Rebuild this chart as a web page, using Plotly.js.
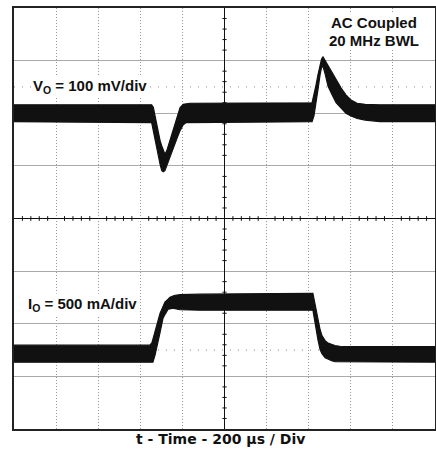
<!DOCTYPE html>
<html>
<head>
<meta charset="utf-8">
<script src="https://cdn.plot.ly/plotly-3.0.1.min.js"></script>
<style>html,body{margin:0;padding:0;background:#fff;}</style>
</head>
<body>
<div id="chart" style="width:436px;height:455px;"></div>
<script>
// Time axis: microseconds across the 10-division screen (200 us/div)
const T_V = [0, 654, 662, 670, 678, 686, 694, 702, 709, 717, 726, 734, 749, 760, 773, 789, 804, 817, 836,
             1416, 1425, 1435, 1444, 1454, 1461, 1468, 1478, 1492, 1511, 1530, 1554, 1577, 1601, 1630, 1668, 1739, 2000];
// Output voltage (AC coupled) envelope, mV
const V_HI = [16, 16, 11, -6, -21, -37, -52, -62, -71, -78, -71, -60, -40, -26, -9, 11, 17, 18, 19,
              20, 35, 54, 73, 94, 103, 107, 100, 89, 77, 63, 48, 35, 25, 19, 17, 16, 16];
const V_LO = [-16, -18, -35, -52, -67, -81, -97, -109, -111, -109, -101, -92, -76, -63, -49, -33, -22, -18, -17,
              -16, -5, 19, 45, 73, 87, 89, 75, 51, 35, 20, 10, 0, -5, -10, -13, -16, -16];

const T_I = [0, 646, 656, 660, 670, 679, 694, 708, 717, 732, 741, 755, 765, 789, 884,
             1420, 1430, 1438, 1444, 1454, 1463, 1478, 1492, 1509, 1525, 1549, 1573, 1644, 2000];
// Output current envelope, mA
const I_HI = [81, 81, 109, 138, 195, 271, 385, 448, 490, 518, 537, 549, 556, 561, 566,
              575, 475, 385, 321, 230, 172, 125, 101, 86, 77, 71, 68, 67, 67];
const I_LO = [-81, -81, -81, -81, -14, 62, 204, 338, 372, 423, 427, 433, 428, 418, 414,
              414, 296, 195, 132, 40, 0, -38, -55, -67, -76, -80, -81, -81, -81];

const V_SCALE = 100;   // mV / div
const V_OFFSET = 2.0;  // div
const I_SCALE = 500;   // mA / div
const I_OFFSET = -2.57; // div

function band(t, hi, lo, scale, off) {
  const x = t.concat(t.slice().reverse());
  const y = hi.map(v => off + v / scale).concat(lo.slice().reverse().map(v => off + v / scale));
  return {
    type: 'scatter', mode: 'lines', x: x, y: y, fill: 'toself',
    fillcolor: '#111', line: {color: '#111', width: 1.2}, hoverinfo: 'skip', showlegend: false
  };
}

const data = [
  band(T_V, V_HI, V_LO, V_SCALE, V_OFFSET),
  band(T_I, I_HI, I_LO, I_SCALE, I_OFFSET)
];

const shapes = [];
// center cross
shapes.push({type: 'line', xref: 'x', yref: 'y', x0: 1000, x1: 1000, y0: -4, y1: 4,
             line: {color: '#111', width: 1}, layer: 'between'});
shapes.push({type: 'line', xref: 'x', yref: 'y', x0: 0, x1: 2000, y0: 0, y1: 0,
             line: {color: '#111', width: 1}, layer: 'between'});
// minor ticks on center cross
for (let k = 1; k < 50; k++) {
  if (k % 5 === 0) continue;
  const xv = k * 40;
  shapes.push({type: 'line', xref: 'x', yref: 'y', x0: xv, x1: xv, y0: -0.045, y1: 0.045,
               line: {color: '#111', width: 1}, layer: 'between'});
}
for (let k = -19; k < 20; k++) {
  if (k % 5 === 0) continue;
  const yv = k * 0.2;
  shapes.push({type: 'line', xref: 'x', yref: 'y', x0: 990, x1: 1010, y0: yv, y1: yv,
               line: {color: '#111', width: 1}, layer: 'between'});
}
// dotted reference lines
[2.5, -2.5].forEach(yv => {
  shapes.push({type: 'line', xref: 'x', yref: 'y', x0: 0, x1: 2000, y0: yv, y1: yv,
               line: {color: '#888', width: 1, dash: '1px,7px'}, layer: 'between'});
});

const font = {family: 'Liberation Sans, Arial, sans-serif', color: '#111', size: 15, weight: 'bold'};

const layout = {
  width: 436, height: 455,
  margin: {l: 14, r: 1, t: 8, b: 26, pad: 0},
  paper_bgcolor: '#fff', plot_bgcolor: '#fff',
  showlegend: false,
  xaxis: {
    range: [0, 2000], dtick: 200, tick0: 0, showticklabels: false, ticks: '',
    showgrid: true, gridcolor: '#999', gridwidth: 1, griddash: '1px,2px',
    zeroline: false, showline: true, mirror: true, linecolor: '#222', linewidth: 2, fixedrange: true
  },
  yaxis: {
    range: [-4, 4], dtick: 1, tick0: 0, showticklabels: false, ticks: '',
    showgrid: true, gridcolor: '#aaa', gridwidth: 1,
    zeroline: false, showline: true, mirror: true, linecolor: '#222', linewidth: 2, fixedrange: true
  },
  shapes: shapes,
  annotations: [
    {xref: 'paper', yref: 'paper', x: 0.854, y: (429 - 22) / 421, xanchor: 'center', yanchor: 'middle',
     text: '<b>AC Coupled</b>', showarrow: false, font: font, bgcolor: '#fff', borderpad: 0},
    {xref: 'paper', yref: 'paper', x: 0.854, y: (429 - 40) / 421, xanchor: 'center', yanchor: 'middle',
     text: '<b>20 MHz BWL</b>', showarrow: false, font: font, bgcolor: '#fff', borderpad: 0},
    {xref: 'paper', yref: 'paper', x: (31 - 14) / 421, y: (429 - 87) / 421, xanchor: 'left', yanchor: 'middle',
     text: '<b>V<sub>O</sub> = 100 mV/div</b>', showarrow: false, font: font, bgcolor: '#fff', borderpad: 1},
    {xref: 'paper', yref: 'paper', x: (26 - 14) / 421, y: (429 - 304) / 421, xanchor: 'left', yanchor: 'middle',
     text: '<b>I<sub>O</sub> = 500 mA/div</b>', showarrow: false, font: font, bgcolor: '#fff', borderpad: 1},
    {xref: 'paper', yref: 'paper', x: (220 - 14) / 421, y: (429 - 438.5) / 421, xanchor: 'center', yanchor: 'middle',
     text: '<b>t - Time - 200 \u03bcs / Div</b>', showarrow: false,
     font: {family: 'DejaVu Sans, sans-serif', color: '#111', size: 14, weight: 'bold'}}
  ]
};

Plotly.newPlot('chart', data, layout, {staticPlot: true, displayModeBar: false});
</script>
</body>
</html>
